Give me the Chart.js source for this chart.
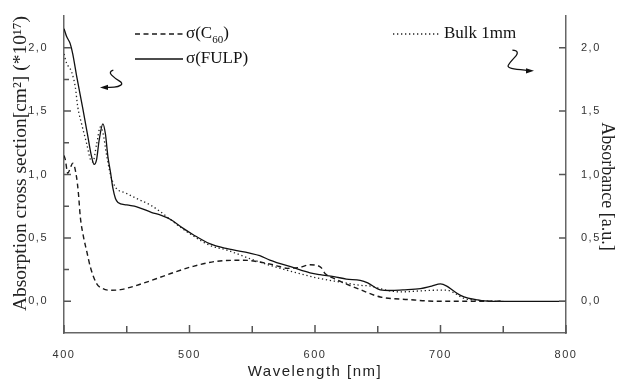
<!DOCTYPE html>
<html>
<head>
<meta charset="utf-8">
<script src="https://cdn.jsdelivr.net/npm/chart.js@4.4.1/dist/chart.umd.min.js"></script>
<style>
  html, body { margin: 0; padding: 0; background: #fff; }
  #wrap { width: 618px; height: 383px; }
</style>
</head>
<body>
<div id="wrap"><canvas id="spec" width="618" height="383"></canvas></div>
<script>
// wavelength [nm] / value pairs
const c60Wl = [400, 401, 403, 405, 407, 410, 411.5, 413, 415.5, 418, 421, 426, 431, 437, 445, 458, 474, 485, 503, 522, 543, 556, 568, 578, 588, 596, 602, 605, 608, 615, 623, 636, 652, 676, 689, 700, 750];
const c60Val = [1.15, 1.12, 1.01, 1.05, 1.09, 0.98, 0.85, 0.665, 0.51, 0.40, 0.27, 0.14, 0.10, 0.087, 0.092, 0.126, 0.18, 0.219, 0.276, 0.316, 0.324, 0.31, 0.285, 0.26, 0.268, 0.288, 0.282, 0.265, 0.22, 0.18, 0.145, 0.092, 0.034, 0.013, 0.003, 0, 0];

const fulpWl = [400, 402, 405, 407, 410, 415, 419, 422, 424, 426, 428, 431, 433, 435, 437, 439, 441, 443, 450, 458, 470, 477, 485, 495, 503, 516, 530, 548, 556, 564, 583, 596, 604, 615, 625, 636, 642, 652, 660, 670, 684, 693, 700, 705, 710, 716, 722, 729, 735, 740, 800];
const fulpVal = [2.15, 2.09, 2.03, 1.95, 1.78, 1.52, 1.30, 1.14, 1.08, 1.12, 1.27, 1.40, 1.32, 1.14, 1.02, 0.89, 0.81, 0.78, 0.76, 0.745, 0.70, 0.68, 0.645, 0.575, 0.525, 0.455, 0.415, 0.38, 0.36, 0.325, 0.265, 0.225, 0.21, 0.195, 0.175, 0.165, 0.145, 0.09, 0.085, 0.09, 0.10, 0.12, 0.137, 0.12, 0.085, 0.047, 0.025, 0.012, 0.003, 0, 0];

const bulkWl = [400, 402, 406, 409, 411, 414, 418, 421, 423, 426, 429, 431, 434, 437, 441, 449, 458, 469, 477, 488, 500, 516, 530, 548, 564, 583, 604, 620, 636, 644, 656, 668, 680, 694, 705, 712, 718, 729, 740, 750];
const bulkVal = [1.95, 1.88, 1.81, 1.69, 1.53, 1.40, 1.245, 1.12, 1.10, 1.24, 1.375, 1.33, 1.15, 1.0, 0.90, 0.855, 0.81, 0.758, 0.705, 0.62, 0.535, 0.442, 0.403, 0.337, 0.284, 0.231, 0.179, 0.152, 0.126, 0.12, 0.09, 0.074, 0.08, 0.087, 0.088, 0.06, 0.026, 0.008, 0.002, 0];

const xTicks = [400, 500, 600, 700, 800];
const yTicks = [0, 0.5, 1.0, 1.5, 2.0];

const pares = (xs, ys) => xs.map((x, i) => ({ x, y: ys[i] }));
const virgula = (v) => v.toFixed(1).replace(".", ",");

const tickFont = { family: "Arial, 'Liberation Sans', sans-serif", size: 11 };
const serif = "'Liberation Serif', 'Times New Roman', serif";

// serif axis titles: no letter spacing, nudged along the axis like the original
const deslocTitulo = { y: -11, y2: 12 };

// inward tick marks + letter spacing for the sans labels
const marcasInternas = {
  id: "marcasInternas",
  beforeDraw(chart) {
    chart.ctx.letterSpacing = "1.5px";
    Object.keys(deslocTitulo).forEach((id) => {
      const s = chart.scales[id];
      if (s._semEspaco) return;
      const orig = s.drawTitle.bind(s);
      s.drawTitle = function () {
        const c = this.ctx;
        c.save();
        c.letterSpacing = "0px";
        c.translate(0, deslocTitulo[id]);
        orig();
        c.restore();
      };
      s._semEspaco = true;
    });
  },
  afterDraw(chart) {
    const { ctx, chartArea: a, scales } = chart;
    ctx.save();
    ctx.letterSpacing = "0px";
    ctx.strokeStyle = "#555";
    ctx.lineWidth = 1.5;
    ctx.beginPath();
    for (let v = 400; v <= 800; v += 50) {
      const px = scales.x.getPixelForValue(v);
      const len = v % 100 === 0 ? 8 : 7;
      ctx.moveTo(px, a.bottom);
      ctx.lineTo(px, a.bottom - len);
    }
    for (let v = 0; v <= 2.0001; v += 0.25) {
      const py = scales.y.getPixelForValue(v);
      const major = Math.abs(v * 2 - Math.round(v * 2)) < 1e-6;
      ctx.moveTo(a.left, py);
      ctx.lineTo(a.left + (major ? 7 : 5), py);
      if (major) {
        ctx.moveTo(a.right, py);
        ctx.lineTo(a.right - 7, py);
      }
    }
    ctx.stroke();
    ctx.restore();
  },
};

// legend drawn inside the plot, like the original
const legendaInterna = {
  id: "legendaInterna",
  afterDatasetsDraw(chart) {
    const { ctx, chartArea: a } = chart;
    const ds = chart.data.datasets;
    ctx.save();
    ctx.letterSpacing = "0px";
    ctx.fillStyle = "#111";
    ctx.textBaseline = "middle";
    const linha = (d, x0, x1, y) => {
      ctx.save();
      ctx.strokeStyle = d.borderColor;
      ctx.lineWidth = d.borderWidth;
      ctx.setLineDash(d.borderDash || []);
      ctx.beginPath();
      ctx.moveTo(x0, y);
      ctx.lineTo(x1, y);
      ctx.stroke();
      ctx.restore();
    };
    const big = "17px " + serif;
    const small = "11px " + serif;

    // sigma(C60)
    let y = a.top + 18;
    linha(ds[0], a.left + 71, a.left + 119, y);
    let x = a.left + 122;
    ctx.font = big;
    ctx.fillText("σ(C", x, y);
    x += ctx.measureText("σ(C").width;
    ctx.font = small;
    ctx.fillText("60", x, y + 6);
    x += ctx.measureText("60").width;
    ctx.font = big;
    ctx.fillText(")", x, y);

    // sigma(FULP)
    y = a.top + 43;
    linha(ds[1], a.left + 71, a.left + 119, y);
    ctx.fillText("σ(FULP)", a.left + 122, y);

    // Bulk 1mm
    y = a.top + 18;
    linha(ds[2], a.left + 329, a.left + 376, y);
    ctx.fillText("Bulk 1mm", a.left + 380, y);
    ctx.restore();
  },
};

// the two curly arrows pointing at their axes
const setas = [
  { x: 428.7, y: 1.687, pts: [[13.3, -17.3], [8.3, -15.6], [15, -9], [23.3, -4], [18.3, -0.6], [10, 0], [0, 0]], dir: -1 },
  { x: 774.5, y: 1.818, pts: [[-21.6, -20.7], [-13.3, -20], [-25, -7.4], [-26.6, -3.4], [-18.3, -1.4], [0, 0]], dir: 1 },
];
const desenhaSetas = {
  id: "desenhaSetas",
  afterDatasetsDraw(chart) {
    const { ctx, scales } = chart;
    ctx.save();
    ctx.strokeStyle = "#111";
    ctx.fillStyle = "#111";
    ctx.lineWidth = 1.3;
    setas.forEach((s) => {
      const tx = scales.x.getPixelForValue(s.x);
      const ty = scales.y.getPixelForValue(s.y);
      const p = s.pts.map(([dx, dy]) => [tx + dx, ty + dy]);
      ctx.beginPath();
      ctx.moveTo(p[0][0], p[0][1]);
      for (let i = 1; i < p.length - 1; i++) {
        const mx = (p[i][0] + p[i + 1][0]) / 2;
        const my = (p[i][1] + p[i + 1][1]) / 2;
        ctx.quadraticCurveTo(p[i][0], p[i][1], mx, my);
      }
      ctx.lineTo(tx - s.dir * 4, ty);
      ctx.stroke();
      ctx.beginPath();
      ctx.moveTo(tx, ty);
      ctx.lineTo(tx - s.dir * 8, ty - 2.6);
      ctx.lineTo(tx - s.dir * 8, ty + 2.6);
      ctx.closePath();
      ctx.fill();
    });
    ctx.restore();
  },
};

const ctx = document.getElementById("spec").getContext("2d");

new Chart(ctx, {
  type: "line",
  data: {
    datasets: [
      {
        label: "σ(C60)",
        data: pares(c60Wl, c60Val),
        borderColor: "#1a1a1a",
        borderWidth: 1.4,
        borderDash: [5, 3.5],
      },
      {
        label: "σ(FULP)",
        data: pares(fulpWl, fulpVal),
        borderColor: "#111",
        borderWidth: 1.3,
      },
      {
        label: "Bulk 1mm",
        data: pares(bulkWl, bulkVal),
        borderColor: "#222",
        borderWidth: 1.3,
        borderDash: [1.3, 2.7],
      },
    ],
  },
  options: {
    responsive: false,
    animation: false,
    layout: { padding: { top: 16, left: 0, right: 0, bottom: 0 } },
    elements: {
      point: { radius: 0 },
      line: { cubicInterpolationMode: "monotone", fill: false },
    },
    plugins: {
      legend: { display: false },
      tooltip: { enabled: false },
    },
    scales: {
      x: {
        type: "linear",
        min: 400,
        max: 800,
        afterBuildTicks: (s) => { s.ticks = xTicks.map((value) => ({ value })); },
        afterFit: (s) => { s.height = 50; },
        grid: { display: false },
        border: { display: true, color: "#666", width: 1.5 },
        ticks: { font: tickFont, color: "#333", padding: 7, maxRotation: 0 },
        title: {
          display: true,
          text: "Wavelength [nm]",
          color: "#222",
          font: { family: "Arial, 'Liberation Sans', sans-serif", size: 15 },
          padding: { top: 0, bottom: 2 },
        },
      },
      y: {
        position: "left",
        min: -0.25,
        max: 2.25,
        afterBuildTicks: (s) => { s.ticks = yTicks.map((value) => ({ value })); },
        afterFit: (s) => { s.width = 64; },
        grid: { display: false },
        border: { display: true, color: "#666", width: 1.5 },
        ticks: { font: tickFont, color: "#333", padding: 8, callback: virgula },
        title: {
          display: true,
          text: "Absorption cross section[cm²] (*10¹⁷)",
          color: "#222",
          font: { family: serif, size: 19.5 },
          padding: { top: 9, bottom: 0 },
        },
      },
      y2: {
        position: "right",
        min: -0.25,
        max: 2.25,
        afterBuildTicks: (s) => { s.ticks = yTicks.map((value) => ({ value })); },
        afterFit: (s) => { s.width = 52; },
        grid: { display: false },
        border: { display: true, color: "#666", width: 1.5 },
        ticks: { font: tickFont, color: "#333", padding: 7, callback: virgula },
        title: {
          display: true,
          text: "Absorbance [a.u.]",
          color: "#222",
          font: { family: serif, size: 18 },
          padding: { top: 0, bottom: 0 },
        },
      },
    },
  },
  plugins: [marcasInternas, legendaInterna, desenhaSetas],
});
</script>
</body>
</html>
